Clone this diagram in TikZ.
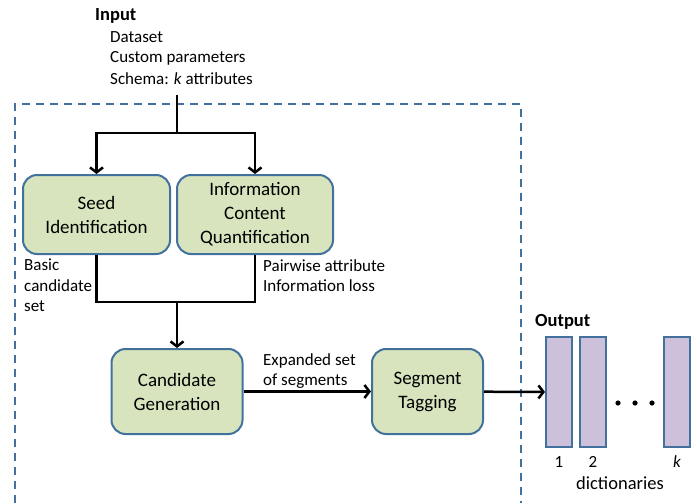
\documentclass[tikz,border=0pt]{standalone}
\usepackage{fontspec}
\setmainfont{Carlito}
\usetikzlibrary{arrows.meta}
\definecolor{boxblue}{RGB}{65,113,156}
\definecolor{boxgreen}{RGB}{215,228,189}
\definecolor{dictpurple}{RGB}{204,192,218}
\tikzset{
  stage/.style={draw=boxblue, line width=2pt, fill=boxgreen, rounded corners=14pt, align=center, inner sep=0pt, font=\fontsize{19}{24}\selectfont},
  dict/.style={draw=boxblue, line width=2pt, fill=dictpurple, minimum width=26pt, minimum height=110pt, inner sep=0pt},
  flow/.style={line width=2.5pt, -{Straight Barb[length=5pt,width=13pt]}},
  link/.style={line width=2.5pt},
  note/.style={font=\fontsize{17}{20.5}\selectfont, align=left, inner sep=0pt, anchor=west},
  head/.style={font=\fontsize{18.5}{20}\selectfont\bfseries, inner sep=0pt, anchor=west}
}
\begin{document}
\begin{tikzpicture}[x=1pt,y=-1pt]
                        \useasboundingbox (0,0) rectangle (697,503);
                        \draw[boxblue, line width=1.5pt, dash pattern=on 8pt off 6pt] (15,503) -- (15,104) -- (521,104) -- (521,503);
                        \node[head] (inputhead) at (95,16) {Input};
                        \node[note] (data) at (110,37) {Dataset};
                        \node[note] (params) at (110,58) {Custom parameters};
                        \node[note] (schema) at (110,79) {Schema: \textit{k} attributes};
                        \node[stage, minimum width=147pt, minimum height=79pt] (seed) at (96.5,214.5) {Seed\\Identification};
                        \node[stage, minimum width=156pt, minimum height=79pt] (info) at (255,214.5) {Information\\Content\\Quantification};
                        \node[stage, minimum width=131pt, minimum height=85pt] (cand) at (177,391.5) {Candidate\\Generation};
                        \node[stage, minimum width=111pt, minimum height=85pt] (tag) at (427.5,391.5) {Segment\\Tagging};
                        \node[note, anchor=north west] (basic) at (24,259) {Basic\\candidate\\set};
                        \node[note, anchor=north west] (pairwise) at (263,259) {Pairwise attribute\\Information loss};
                        \node[note, anchor=north west] (expanded) at (263,353) {Expanded set\\of segments};
                        \node[head] (outputhead) at (535,322) {Output};
                        \node[dict] (d1) at (559,392) {};
                        \node[dict] (d2) at (593,392) {};
                        \node[dict] (dk) at (677,392) {};
                        \foreach \x in {618,635,652}
                            {\fill (\x,403) circle (2.6pt);}
                        \node[note, anchor=center] (n1) at (559,462) {1};
                        \node[note, anchor=center] (n2) at (593,462) {2};
                        \node[note, anchor=center] (nk) at (677,462) {\textit{k}};
                        \node[note, anchor=center, font=\fontsize{18.5}{20}\selectfont] (dicts) at (620,483) {dictionaries};
                        \coordinate (in) at (177,95);
                        \coordinate (split) at (177,133);
                        \coordinate (merge) at (177,302);
                        \draw[link] (in) -- (split);
                        \draw[flow] (split) -| (seed);
                        \draw[flow] (split) -| (info);
                        \draw[link] (seed) |- (merge) -| (info);
                        \draw[flow] (merge) -- (cand);
                        \draw[flow] (cand) -- (tag);
                        \draw[flow] (tag) -- (d1);
                    \end{tikzpicture}
\end{document}
